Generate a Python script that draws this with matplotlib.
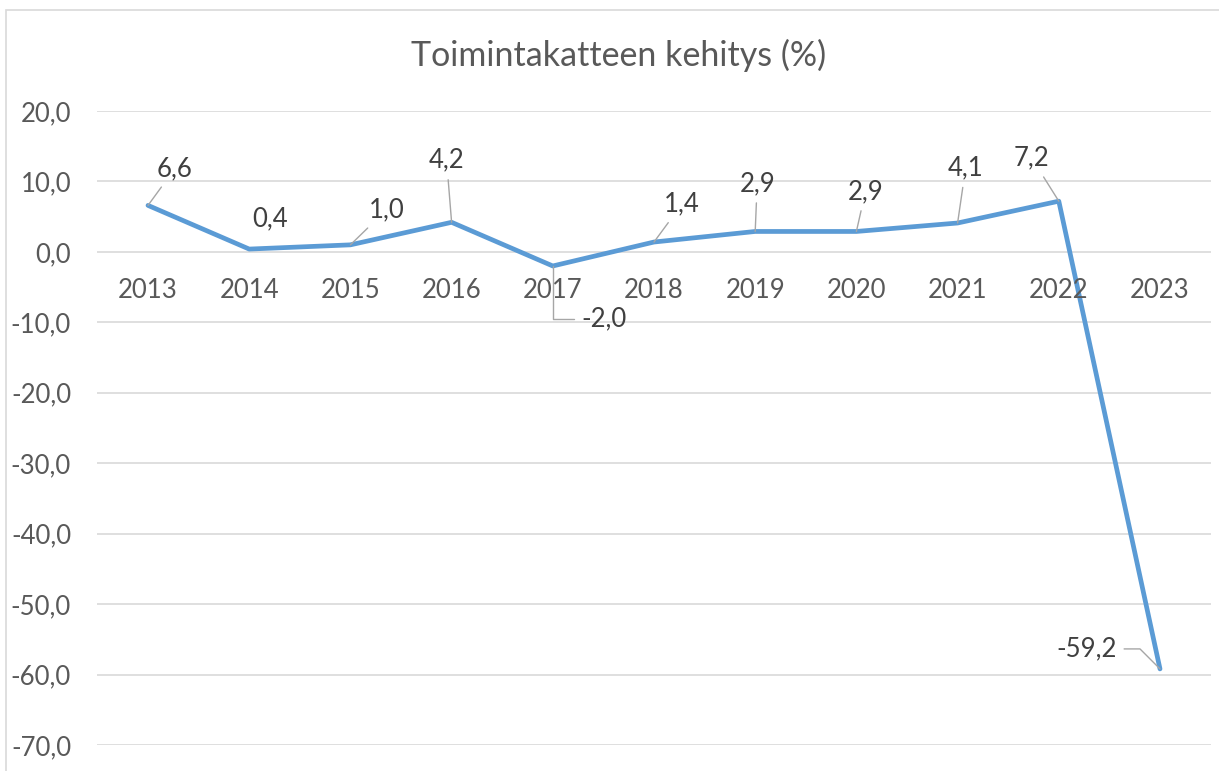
import matplotlib
matplotlib.use("Agg")
import matplotlib.pyplot as plt
from matplotlib.patches import Rectangle

plt.rcParams['font.family'] = ['Lato', 'DejaVu Sans']

# data
years = ['2013', '2014', '2015', '2016', '2017', '2018',
         '2019', '2020', '2021', '2022', '2023']
values = [6.6, 0.4, 1.0, 4.2, -2.0, 1.4, 2.9, 2.9, 4.1, 7.2, -59.2]
title = 'Toimintakatteen kehitys (%)'

# label offsets (pixels) and leader style per point
label_offsets = [(27, 37), (21, 30), (36, 35), (-5, 62), (51, -53), (28, 38),
                 (2, 48), (9, 40), (8, 55), (-27, 43), (-73, 20)]
leader = [True, False, True, True, True, True, True, True, True, True, True]
conn = {4: 'angle,angleA=0,angleB=90,rad=0',
        10: 'angle,angleA=0,angleB=135,rad=0'}

text_color = '#595959'
grid_color = '#D9D9D9'
line_color = '#5B9BD5'
leader_color = '#A6A6A6'

fig = plt.figure(figsize=(12.19, 7.71), dpi=100)
fig.patches.append(Rectangle((6 / 1219, -0.1), 1.2, 1 - 10.5 / 771 + 0.1,
                             transform=fig.transFigure, fill=False,
                             edgecolor=grid_color, lw=1.2))

ax = fig.add_axes([97.4 / 1219, 1 - 745 / 771, (1210.6 - 97.4) / 1219, (745 - 111) / 771])
x = list(range(len(years)))
ax.plot(x, values, color=line_color, lw=3.4, solid_capstyle='round',
        solid_joinstyle='round', zorder=3)

ax.set_xlim(-0.5, len(years) - 0.5)
ax.set_ylim(-70, 20)
yt = list(range(-70, 21, 10))
ax.set_yticks(yt)
ax.set_yticklabels([f'{v:.1f}'.replace('.', ',') for v in yt])
ax.grid(axis='y', color=grid_color, lw=1.2)
ax.set_axisbelow(True)
for s in ax.spines.values():
    s.set_visible(False)
ax.tick_params(axis='y', length=0, pad=19, labelsize=18.5, labelcolor=text_color)
ax.set_xticks([])

# category labels sit below the zero line
for xi, yr in zip(x, years):
    ax.annotate(yr, (xi, 0), xytext=(0, -39), textcoords='offset pixels',
                ha='center', va='center', fontsize=18.5, color=text_color)

for i, (xi, v) in enumerate(zip(x, values)):
    dx, dy = label_offsets[i]
    ap = None
    if leader[i]:
        ap = dict(arrowstyle='-', color=leader_color, lw=1,
                  shrinkA=3, shrinkB=0,
                  connectionstyle=conn.get(i, 'arc3'))
    ax.annotate(f'{v:.1f}'.replace('.', ','), (xi, v), xytext=(dx, dy),
                textcoords='offset pixels', ha='center', va='center',
                fontsize=18.5, color='#404040', arrowprops=ap, zorder=4)

fig.text(619 / 1219, 1 - 55 / 771, title, ha='center', va='center',
         fontsize=24.5, color=text_color)

fig.savefig('out.png', dpi=100)
